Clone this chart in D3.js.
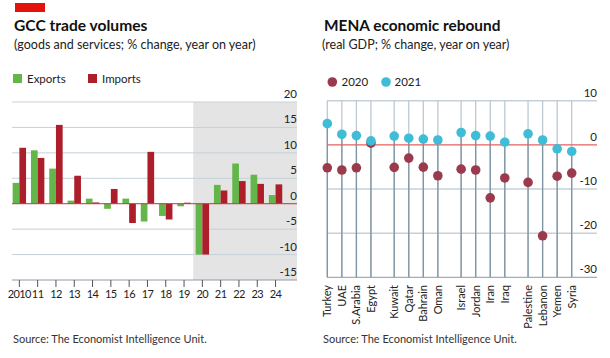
<!DOCTYPE html>
<html><head><meta charset="utf-8">
<script src="https://cdn.jsdelivr.net/npm/d3@7"></script>
<style>
body{margin:0;background:#fff;}
svg{display:block;font-family:Lato,"Noto Sans",sans-serif;}
</style></head>
<body>
<svg id="c" width="610" height="358"></svg>
<script>
// ---- Left chart data ----
const years = ["2010","11","12","13","14","15","16","17","18","19","20","21","22","23","24"];
const exportsVals = [4.1,10.5,6.9,0.6,1.0,-1.0,1.0,-3.5,-2.4,-0.5,-10,3.7,7.9,5.7,1.7];
const importsVals = [11.0,9.0,15.5,5.5,0.25,2.9,-3.8,10.2,-3.1,0.2,-10,2.6,4.45,3.9,3.8];
const leftTicks = [20,15,10,5,0,-5,-10,-15];
const forecastFrom = "20";

// ---- Right chart data ----
const countryGroups = [
  ["Turkey","UAE","S.Arabia","Egypt"],
  ["Kuwait","Qatar","Bahrain","Oman"],
  ["Israel","Jordan","Iran","Iraq"],
  ["Palestine","Lebanon","Yemen","Syria"]
];
const countries = countryGroups.flat();
const gdp2020 = [-5.2,-5.7,-5.2,0.4,-5.1,-3.0,-5.05,-7.0,-5.5,-5.7,-12.0,-7.5,-8.5,-20.6,-7.1,-6.4];
const gdp2021 = [4.8,2.4,2.1,0.9,2.0,1.5,1.3,1.1,2.8,2.1,2.0,0.6,2.5,1.1,-0.9,-1.5];
const rightTicks = [10,0,-10,-20,-30];

const svg = d3.select("#c");
const gridCol = "#c5d1da";

// ---------- LEFT CHART ----------
svg.append("rect").attr("x",15).attr("y",3).attr("width",30).attr("height",9).attr("fill","#e3120b");
svg.append("text").attr("x",14).attr("y",31).attr("font-size",15.6).attr("font-weight","bold").attr("fill","#111").text("GCC trade volumes");
svg.append("text").attr("x",14).attr("y",49).attr("font-size",12.5).attr("fill","#222").text("(goods and services; % change, year on year)");

const lg = svg.append("g");
lg.append("rect").attr("x",13).attr("y",74).attr("width",9).attr("height",9).attr("fill","#63b649");
lg.append("text").attr("x",27).attr("y",83).attr("font-size",11.5).attr("fill","#222").text("Exports");
lg.append("rect").attr("x",88).attr("y",74).attr("width",9).attr("height",9).attr("fill","#ac1e2a");
lg.append("text").attr("x",102).attr("y",83).attr("font-size",11.5).attr("fill","#222").text("Imports");

const xL = d3.scaleBand().domain(years).range([10.2,284.7]).padding(0);
const yL = d3.scaleLinear().domain([-15,20]).range([280,102]);
const bw = 6.7;
const gL = svg.append("g");

// shaded forecast
gL.append("rect").attr("x",xL(forecastFrom)).attr("y",yL(20)).attr("width",297-xL(forecastFrom)).attr("height",yL(-15)-yL(20)).attr("fill","#e4e4e4");

// gridlines
gL.selectAll(".gl").data(leftTicks.filter(t=>t!==0 && t!==-15)).join("line")
  .attr("x1",12).attr("x2",297).attr("y1",d=>yL(d)).attr("y2",d=>yL(d))
  .attr("stroke",gridCol).attr("stroke-width",1);
gL.selectAll(".gt").data(leftTicks).join("text")
  .attr("x",297).attr("y",d=>yL(d)-4).attr("text-anchor","end").attr("font-size",11.5).attr("fill","#222")
  .text(d=>d);

const cx = d => xL(d)+xL.bandwidth()/2;
gL.selectAll(".ex").data(years).join("rect")
  .attr("x",d=>cx(d)-bw).attr("width",bw)
  .attr("y",(d,i)=>yL(Math.max(0,exportsVals[i])))
  .attr("height",(d,i)=>Math.abs(yL(exportsVals[i])-yL(0)))
  .attr("fill","#63b649");
gL.selectAll(".im").data(years).join("rect")
  .attr("x",d=>cx(d)).attr("width",bw)
  .attr("y",(d,i)=>yL(Math.max(0,importsVals[i])))
  .attr("height",(d,i)=>Math.abs(yL(importsVals[i])-yL(0)))
  .attr("fill","#ac1e2a");

// zero line
gL.append("line").attr("x1",12).attr("x2",297).attr("y1",yL(0)).attr("y2",yL(0)).attr("stroke","#c9303a").attr("stroke-width",1);
// bottom axis
gL.append("line").attr("x1",12).attr("x2",297).attr("y1",yL(-15)).attr("y2",yL(-15)).attr("stroke","#8e9aa3").attr("stroke-width",1);
gL.selectAll(".tk").data(years).join("line")
  .attr("x1",cx).attr("x2",cx).attr("y1",yL(-15)).attr("y2",yL(-15)+7)
  .attr("stroke","#555").attr("stroke-width",1);
gL.selectAll(".tl").data(years).join("text")
  .attr("x",cx).attr("y",298).attr("text-anchor","middle").attr("font-size",11).attr("letter-spacing",-0.6).attr("fill","#222")
  .text(d=>d);

svg.append("text").attr("x",13).attr("y",343).attr("font-size",11).attr("fill","#333").text("Source: The Economist Intelligence Unit.");

// ---------- RIGHT CHART ----------
svg.append("text").attr("x",324).attr("y",31).attr("font-size",15.4).attr("font-weight","bold").attr("fill","#111").text("MENA economic rebound");
svg.append("text").attr("x",322).attr("y",49).attr("font-size",12.5).attr("fill","#222").text("(real GDP; % change, year on year)");

const c2020 = "#9b3a4d", c2021 = "#3fbcd6";
svg.append("circle").attr("cx",332.3).attr("cy",82).attr("r",4.8).attr("fill",c2020);
svg.append("text").attr("x",341.5).attr("y",86).attr("font-size",11.5).attr("fill","#222").text("2020");
svg.append("circle").attr("cx",386).attr("cy",82).attr("r",4.8).attr("fill",c2021);
svg.append("text").attr("x",394.5).attr("y",86).attr("font-size",11.5).attr("fill","#222").text("2021");

const gap = 0.6;
const pos = [];
countryGroups.forEach((g,gi)=>g.forEach((c,ci)=>pos.push(gi*(4+gap)+ci)));
const xR = d3.scaleLinear().domain([0, 15+3*gap]).range([327.3,571.7]);
const yR = d3.scaleLinear().domain([-30,10]).range([277.3,100.7]);
const gR = svg.append("g");

gR.selectAll(".gl").data(rightTicks.filter(t=>t!==0 && t!==-30)).join("line")
  .attr("x1",327).attr("x2",597).attr("y1",d=>yR(d)).attr("y2",d=>yR(d))
  .attr("stroke",gridCol).attr("stroke-width",1.5);
gR.selectAll(".gt").data(rightTicks).join("text")
  .attr("x",597).attr("y",d=>yR(d)-4).attr("text-anchor","end").attr("font-size",11.5).attr("fill","#222")
  .text(d=>d);

// stems
gR.selectAll(".st1").data(countries).join("line")
  .attr("x1",(d,i)=>xR(pos[i])).attr("x2",(d,i)=>xR(pos[i]))
  .attr("y1",yR(10)).attr("y2",yR(-30)).attr("stroke","#bcc9d3").attr("stroke-width",1.3);
gR.selectAll(".st2").data(countries).join("line")
  .attr("x1",(d,i)=>xR(pos[i])).attr("x2",(d,i)=>xR(pos[i]))
  .attr("y1",(d,i)=>yR(Math.max(gdp2020[i],gdp2021[i]))).attr("y2",yR(-30)).attr("stroke","#7f93a2").attr("stroke-width",1.3);

gR.append("line").attr("x1",327).attr("x2",597).attr("y1",yR(0)).attr("y2",yR(0)).attr("stroke","#e0625f").attr("stroke-width",1.2);
gR.append("line").attr("x1",327).attr("x2",597).attr("y1",yR(-30)).attr("y2",yR(-30)).attr("stroke","#8e9aa3").attr("stroke-width",1);

gR.selectAll(".d20").data(countries).join("circle")
  .attr("cx",(d,i)=>xR(pos[i])).attr("cy",(d,i)=>yR(gdp2020[i])).attr("r",4.8).attr("fill",c2020);
gR.selectAll(".d21").data(countries).join("circle")
  .attr("cx",(d,i)=>xR(pos[i])).attr("cy",(d,i)=>yR(gdp2021[i])).attr("r",4.8).attr("fill",c2021);

gR.selectAll(".cl").data(countries).join("text")
  .attr("transform",(d,i)=>`translate(${xR(pos[i])+4},285) rotate(-90)`)
  .attr("text-anchor","end").attr("font-size",11).attr("fill","#222")
  .text(d=>d);

svg.append("text").attr("x",323).attr("y",343).attr("font-size",11).attr("fill","#333").text("Source: The Economist Intelligence Unit.");
</script>
</body></html>
